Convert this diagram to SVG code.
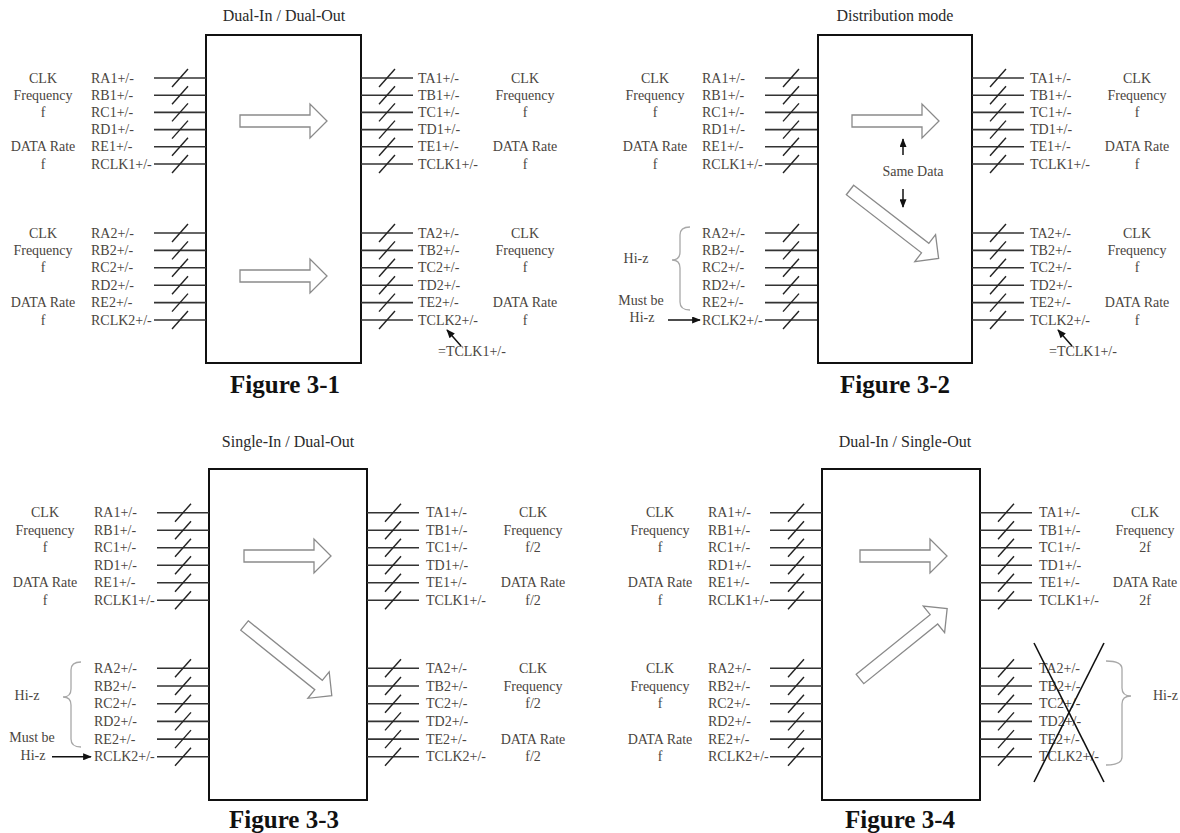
<svg xmlns="http://www.w3.org/2000/svg" xmlns:xlink="http://www.w3.org/1999/xlink" width="1180" height="833" viewBox="0 0 1180 833">
<style>
.lbl{font-family:"Liberation Serif","Times New Roman",serif;font-size:14px;fill:#4a4540}
.c{text-anchor:middle}
.ttl{font-family:"Liberation Serif","Times New Roman",serif;font-size:16px;fill:#2a2a2a;text-anchor:middle}
.cap{font-family:"Liberation Serif","Times New Roman",serif;font-size:25px;font-weight:bold;fill:#111;text-anchor:middle}
.box{fill:#fff;stroke:#111;stroke-width:2}
.barrow{fill:#fff;stroke:#8a8a8a;stroke-width:1.3}
.brace{fill:none;stroke:#a8a8a8;stroke-width:1.3}
.pinl{stroke:#333;stroke-width:1.6}
.sl{stroke:#222;stroke-width:1.4}
.blk{stroke:#111;stroke-width:1.5;fill:none}
.xl{stroke:#111;stroke-width:1.6}
</style>
<defs>
<g id="pin"><line class="pinl" x1="0" y1="0" x2="52" y2="0"/><line class="sl" x1="18" y1="9" x2="34" y2="-9"/></g>
<path id="ar87" class="barrow" d="M0,-6 H70 V-17 L87,0 L70,17 V6 H0 Z"/>
<path id="ar112" class="barrow" d="M0,-6 H95 V-17 L112,0 L95,17 V6 H0 Z"/>
<marker id="ah" viewBox="0 0 10 8" refX="9" refY="4" markerWidth="9" markerHeight="7" markerUnits="userSpaceOnUse" orient="auto"><path d="M0,0 L10,4 L0,8 Z" fill="#111"/></marker>
</defs>

<!-- Figure 3-1 -->
<g id="fig31">
<text class="ttl" x="284" y="21">Dual-In / Dual-Out</text>
<rect id="box31" class="box" x="206" y="35" width="155" height="328"/>
<g id="arrows31"><use href="#ar87" transform="translate(240,121)"/><use href="#ar87" transform="translate(240,276)"/></g>
<g id="pins31">
<use href="#pin" x="154" y="78"/><use href="#pin" x="154" y="95.2"/><use href="#pin" x="154" y="112.4"/><use href="#pin" x="154" y="129.6"/><use href="#pin" x="154" y="146.8"/><use href="#pin" x="154" y="164"/>
<use href="#pin" x="154" y="233"/><use href="#pin" x="154" y="250.4"/><use href="#pin" x="154" y="267.8"/><use href="#pin" x="154" y="285.2"/><use href="#pin" x="154" y="302.6"/><use href="#pin" x="154" y="320"/>
<use href="#pin" x="361" y="78"/><use href="#pin" x="361" y="95.2"/><use href="#pin" x="361" y="112.4"/><use href="#pin" x="361" y="129.6"/><use href="#pin" x="361" y="146.8"/><use href="#pin" x="361" y="164"/>
<use href="#pin" x="361" y="233"/><use href="#pin" x="361" y="250.4"/><use href="#pin" x="361" y="267.8"/><use href="#pin" x="361" y="285.2"/><use href="#pin" x="361" y="302.6"/><use href="#pin" x="361" y="320"/>
</g>
<g id="lbl31" class="lbl">
<text x="91" y="82.5">RA1+/-</text><text x="91" y="99.7">RB1+/-</text><text x="91" y="116.9">RC1+/-</text><text x="91" y="134.1">RD1+/-</text><text x="91" y="151.3">RE1+/-</text><text x="91" y="168.5">RCLK1+/-</text>
<text x="91" y="237.5">RA2+/-</text><text x="91" y="254.9">RB2+/-</text><text x="91" y="272.3">RC2+/-</text><text x="91" y="289.7">RD2+/-</text><text x="91" y="307.1">RE2+/-</text><text x="91" y="324.5">RCLK2+/-</text>
<text x="418" y="82.5">TA1+/-</text><text x="418" y="99.7">TB1+/-</text><text x="418" y="116.9">TC1+/-</text><text x="418" y="134.1">TD1+/-</text><text x="418" y="151.3">TE1+/-</text><text x="418" y="168.5">TCLK1+/-</text>
<text x="418" y="237.5">TA2+/-</text><text x="418" y="254.9">TB2+/-</text><text x="418" y="272.3">TC2+/-</text><text x="418" y="289.7">TD2+/-</text><text x="418" y="307.1">TE2+/-</text><text x="418" y="324.5">TCLK2+/-</text>
<text class="c" x="43" y="82.5">CLK</text><text class="c" x="43" y="99.7">Frequency</text><text class="c" x="43" y="116.9">f</text><text class="c" x="43" y="151.3">DATA Rate</text><text class="c" x="43" y="168.5">f</text>
<text class="c" x="43" y="237.5">CLK</text><text class="c" x="43" y="254.9">Frequency</text><text class="c" x="43" y="272.3">f</text><text class="c" x="43" y="307.1">DATA Rate</text><text class="c" x="43" y="324.5">f</text>
<text class="c" x="525" y="82.5">CLK</text><text class="c" x="525" y="99.7">Frequency</text><text class="c" x="525" y="116.9">f</text><text class="c" x="525" y="151.3">DATA Rate</text><text class="c" x="525" y="168.5">f</text>
<text class="c" x="525" y="237.5">CLK</text><text class="c" x="525" y="254.9">Frequency</text><text class="c" x="525" y="272.3">f</text><text class="c" x="525" y="307.1">DATA Rate</text><text class="c" x="525" y="324.5">f</text>
<text x="438" y="356">=TCLK1+/-</text>
</g>
<line class="blk" x1="461" y1="346" x2="447" y2="330" marker-end="url(#ah)"/>
<text class="cap" x="285" y="393">Figure 3-1</text>
</g>

<!-- Figure 3-2 -->
<g id="fig32" transform="translate(612,0)">
<text class="ttl" x="283" y="21">Distribution mode</text>
<rect id="box32" class="box" x="206" y="35" width="154" height="328"/>
<g id="arrows32"><use href="#ar87" transform="translate(240,121)"/><use href="#ar112" transform="translate(238,190) rotate(37.7)"/></g>
<g id="pins32">
<use href="#pin" x="153" y="78"/><use href="#pin" x="153" y="95.2"/><use href="#pin" x="153" y="112.4"/><use href="#pin" x="153" y="129.6"/><use href="#pin" x="153" y="146.8"/><use href="#pin" x="153" y="164"/>
<use href="#pin" x="153" y="233"/><use href="#pin" x="153" y="250.4"/><use href="#pin" x="153" y="267.8"/><use href="#pin" x="153" y="285.2"/><use href="#pin" x="153" y="302.6"/><use href="#pin" x="153" y="320"/>
<use href="#pin" x="360" y="78"/><use href="#pin" x="360" y="95.2"/><use href="#pin" x="360" y="112.4"/><use href="#pin" x="360" y="129.6"/><use href="#pin" x="360" y="146.8"/><use href="#pin" x="360" y="164"/>
<use href="#pin" x="360" y="233"/><use href="#pin" x="360" y="250.4"/><use href="#pin" x="360" y="267.8"/><use href="#pin" x="360" y="285.2"/><use href="#pin" x="360" y="302.6"/><use href="#pin" x="360" y="320"/>
</g>
<g id="lbl32" class="lbl">
<text x="90" y="82.5">RA1+/-</text><text x="90" y="99.7">RB1+/-</text><text x="90" y="116.9">RC1+/-</text><text x="90" y="134.1">RD1+/-</text><text x="90" y="151.3">RE1+/-</text><text x="90" y="168.5">RCLK1+/-</text>
<text x="90" y="237.5">RA2+/-</text><text x="90" y="254.9">RB2+/-</text><text x="90" y="272.3">RC2+/-</text><text x="90" y="289.7">RD2+/-</text><text x="90" y="307.1">RE2+/-</text><text x="90" y="324.5">RCLK2+/-</text>
<text x="418" y="82.5">TA1+/-</text><text x="418" y="99.7">TB1+/-</text><text x="418" y="116.9">TC1+/-</text><text x="418" y="134.1">TD1+/-</text><text x="418" y="151.3">TE1+/-</text><text x="418" y="168.5">TCLK1+/-</text>
<text x="418" y="237.5">TA2+/-</text><text x="418" y="254.9">TB2+/-</text><text x="418" y="272.3">TC2+/-</text><text x="418" y="289.7">TD2+/-</text><text x="418" y="307.1">TE2+/-</text><text x="418" y="324.5">TCLK2+/-</text>
<text class="c" x="43" y="82.5">CLK</text><text class="c" x="43" y="99.7">Frequency</text><text class="c" x="43" y="116.9">f</text><text class="c" x="43" y="151.3">DATA Rate</text><text class="c" x="43" y="168.5">f</text>
<text class="c" x="24" y="263">Hi-z</text><text class="c" x="29" y="305">Must be</text><text class="c" x="30" y="322">Hi-z</text>
<text class="c" x="525" y="82.5">CLK</text><text class="c" x="525" y="99.7">Frequency</text><text class="c" x="525" y="116.9">f</text><text class="c" x="525" y="151.3">DATA Rate</text><text class="c" x="525" y="168.5">f</text>
<text class="c" x="525" y="237.5">CLK</text><text class="c" x="525" y="254.9">Frequency</text><text class="c" x="525" y="272.3">f</text><text class="c" x="525" y="307.1">DATA Rate</text><text class="c" x="525" y="324.5">f</text>
<text x="437" y="356">=TCLK1+/-</text>
<text class="c" x="301" y="176">Same Data</text>
</g>
<path class="brace" d="M78,227 Q68,227 68,235 V252 Q68,260 60,260 Q68,260 68,268 V302 Q68,310 78,310"/>
<g id="conn32">
<line class="blk" x1="56" y1="320" x2="88" y2="320" marker-end="url(#ah)"/>
<line class="blk" x1="460" y1="346" x2="446" y2="330" marker-end="url(#ah)"/>
<line class="blk" x1="291" y1="155" x2="291" y2="139" marker-end="url(#ah)"/>
<line class="blk" x1="291" y1="189" x2="291" y2="207" marker-end="url(#ah)"/>
</g>
<text class="cap" x="283" y="393">Figure 3-2</text>
</g>

<!-- Figure 3-3 -->
<g id="fig33">
<text class="ttl" x="288" y="447">Single-In / Dual-Out</text>
<rect id="box33" class="box" x="209" y="469" width="158" height="331"/>
<g id="arrows33"><use href="#ar87" transform="translate(244,556)"/><use href="#ar112" transform="translate(244.5,625.5) rotate(38.8)"/></g>
<g id="pins33">
<use href="#pin" x="157" y="512.7"/><use href="#pin" x="157" y="530.2"/><use href="#pin" x="157" y="547.7"/><use href="#pin" x="157" y="565.2"/><use href="#pin" x="157" y="582.7"/><use href="#pin" x="157" y="600.2"/>
<use href="#pin" x="157" y="668.3"/><use href="#pin" x="157" y="686"/><use href="#pin" x="157" y="703.7"/><use href="#pin" x="157" y="721.4"/><use href="#pin" x="157" y="739.1"/><use href="#pin" x="157" y="756.8"/>
<use href="#pin" x="367" y="512.7"/><use href="#pin" x="367" y="530.2"/><use href="#pin" x="367" y="547.7"/><use href="#pin" x="367" y="565.2"/><use href="#pin" x="367" y="582.7"/><use href="#pin" x="367" y="600.2"/>
<use href="#pin" x="367" y="668.3"/><use href="#pin" x="367" y="686"/><use href="#pin" x="367" y="703.7"/><use href="#pin" x="367" y="721.4"/><use href="#pin" x="367" y="739.1"/><use href="#pin" x="367" y="756.8"/>
</g>
<g id="lbl33" class="lbl">
<text x="94" y="517.2">RA1+/-</text><text x="94" y="534.7">RB1+/-</text><text x="94" y="552.2">RC1+/-</text><text x="94" y="569.7">RD1+/-</text><text x="94" y="587.2">RE1+/-</text><text x="94" y="604.7">RCLK1+/-</text>
<text x="94" y="672.8">RA2+/-</text><text x="94" y="690.5">RB2+/-</text><text x="94" y="708.2">RC2+/-</text><text x="94" y="725.9">RD2+/-</text><text x="94" y="743.6">RE2+/-</text><text x="94" y="761.3">RCLK2+/-</text>
<text x="426" y="517.2">TA1+/-</text><text x="426" y="534.7">TB1+/-</text><text x="426" y="552.2">TC1+/-</text><text x="426" y="569.7">TD1+/-</text><text x="426" y="587.2">TE1+/-</text><text x="426" y="604.7">TCLK1+/-</text>
<text x="426" y="672.8">TA2+/-</text><text x="426" y="690.5">TB2+/-</text><text x="426" y="708.2">TC2+/-</text><text x="426" y="725.9">TD2+/-</text><text x="426" y="743.6">TE2+/-</text><text x="426" y="761.3">TCLK2+/-</text>
<text class="c" x="45" y="517.2">CLK</text><text class="c" x="45" y="534.7">Frequency</text><text class="c" x="45" y="552.2">f</text><text class="c" x="45" y="587.2">DATA Rate</text><text class="c" x="45" y="604.7">f</text>
<text class="c" x="27" y="700">Hi-z</text><text class="c" x="32" y="742">Must be</text><text class="c" x="33" y="760">Hi-z</text>
<text class="c" x="533" y="517.2">CLK</text><text class="c" x="533" y="534.7">Frequency</text><text class="c" x="533" y="552.2">f/2</text><text class="c" x="533" y="587.2">DATA Rate</text><text class="c" x="533" y="604.7">f/2</text>
<text class="c" x="533" y="672.8">CLK</text><text class="c" x="533" y="690.5">Frequency</text><text class="c" x="533" y="708.2">f/2</text><text class="c" x="533" y="743.6">DATA Rate</text><text class="c" x="533" y="761.3">f/2</text>
</g>
<path class="brace" d="M81,662 Q71,662 71,670 V689 Q71,697 63,697 Q71,697 71,705 V739 Q71,747 81,747"/>
<g id="conn33"><line class="blk" x1="52" y1="756.8" x2="91" y2="756.8" marker-end="url(#ah)"/></g>
<text class="cap" x="284" y="828">Figure 3-3</text>
</g>

<!-- Figure 3-4 -->
<g id="fig34" transform="translate(613,0)">
<text class="ttl" x="292" y="447">Dual-In / Single-Out</text>
<rect id="box34" class="box" x="209" y="469" width="158" height="331"/>
<g id="arrows34"><use href="#ar87" transform="translate(247,556)"/><use href="#ar112" transform="translate(247,679) rotate(-38.9)"/></g>
<g id="pins34">
<use href="#pin" x="157" y="512.7"/><use href="#pin" x="157" y="530.2"/><use href="#pin" x="157" y="547.7"/><use href="#pin" x="157" y="565.2"/><use href="#pin" x="157" y="582.7"/><use href="#pin" x="157" y="600.2"/>
<use href="#pin" x="157" y="668.3"/><use href="#pin" x="157" y="686"/><use href="#pin" x="157" y="703.7"/><use href="#pin" x="157" y="721.4"/><use href="#pin" x="157" y="739.1"/><use href="#pin" x="157" y="756.8"/>
<use href="#pin" x="367" y="512.7"/><use href="#pin" x="367" y="530.2"/><use href="#pin" x="367" y="547.7"/><use href="#pin" x="367" y="565.2"/><use href="#pin" x="367" y="582.7"/><use href="#pin" x="367" y="600.2"/>
<use href="#pin" x="367" y="668.3"/><use href="#pin" x="367" y="686"/><use href="#pin" x="367" y="703.7"/><use href="#pin" x="367" y="721.4"/><use href="#pin" x="367" y="739.1"/><use href="#pin" x="367" y="756.8"/>
</g>
<g id="lbl34" class="lbl">
<text x="95" y="517.2">RA1+/-</text><text x="95" y="534.7">RB1+/-</text><text x="95" y="552.2">RC1+/-</text><text x="95" y="569.7">RD1+/-</text><text x="95" y="587.2">RE1+/-</text><text x="95" y="604.7">RCLK1+/-</text>
<text x="95" y="672.8">RA2+/-</text><text x="95" y="690.5">RB2+/-</text><text x="95" y="708.2">RC2+/-</text><text x="95" y="725.9">RD2+/-</text><text x="95" y="743.6">RE2+/-</text><text x="95" y="761.3">RCLK2+/-</text>
<text x="426" y="517.2">TA1+/-</text><text x="426" y="534.7">TB1+/-</text><text x="426" y="552.2">TC1+/-</text><text x="426" y="569.7">TD1+/-</text><text x="426" y="587.2">TE1+/-</text><text x="426" y="604.7">TCLK1+/-</text>
<text x="426" y="672.8">TA2+/-</text><text x="426" y="690.5">TB2+/-</text><text x="426" y="708.2">TC2+/-</text><text x="426" y="725.9">TD2+/-</text><text x="426" y="743.6">TE2+/-</text><text x="426" y="761.3">TCLK2+/-</text>
<text class="c" x="47" y="517.2">CLK</text><text class="c" x="47" y="534.7">Frequency</text><text class="c" x="47" y="552.2">f</text><text class="c" x="47" y="587.2">DATA Rate</text><text class="c" x="47" y="604.7">f</text>
<text class="c" x="47" y="672.8">CLK</text><text class="c" x="47" y="690.5">Frequency</text><text class="c" x="47" y="708.2">f</text><text class="c" x="47" y="743.6">DATA Rate</text><text class="c" x="47" y="761.3">f</text>
<text class="c" x="532" y="517.2">CLK</text><text class="c" x="532" y="534.7">Frequency</text><text class="c" x="532" y="552.2">2f</text><text class="c" x="532" y="587.2">DATA Rate</text><text class="c" x="532" y="604.7">2f</text>
<text x="540" y="700">Hi-z</text>
</g>
<g id="cross34"><line class="xl" x1="421" y1="782" x2="491" y2="643"/><line class="xl" x1="421" y1="643" x2="491" y2="782"/></g>
<path class="brace" d="M493,661 Q509,661 509,669 V688 Q509,696 518,696 Q509,696 509,704 V757 Q509,765 493,765"/>
<text class="cap" x="287" y="828">Figure 3-4</text>
</g>
</svg>
